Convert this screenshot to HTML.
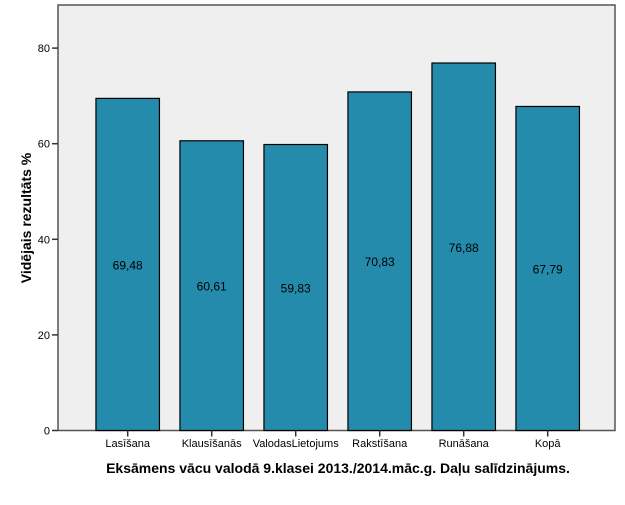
<!DOCTYPE html>
<html><head><meta charset="utf-8"><style>
body{margin:0;background:#fff;font-family:"Liberation Sans",Arial,sans-serif}
</style></head><body>
<svg width="625" height="500" xmlns="http://www.w3.org/2000/svg">
<rect x="58" y="5" width="557" height="425.5" fill="#efefef" stroke="#555" stroke-width="1.5"/>
<g id="bars"></g>
<g id="axes"></g>
<text x="31" y="218" transform="rotate(-90 31 218)" text-anchor="middle" font-size="14" font-weight="bold">Vidējais rezultāts %</text>
<text x="338" y="473" text-anchor="middle" font-size="14" font-weight="bold">Eksāmens vācu valodā 9.klasei 2013./2014.māc.g. Daļu salīdzinājums.</text>
</svg>
<script>
const categories=["Lasīšana","Klausīšanās","ValodasLietojums","Rakstīšana","Runāšana","Kopā"];
const values=[69.48,60.61,59.83,70.83,76.88,67.79];
const valueLabels=["69,48","60,61","59,83","70,83","76,88","67,79"];
const yTicks=[0,20,40,60,80];
const NS="http://www.w3.org/2000/svg";
const y0=430.5, k=4.78;
const yS=v=>y0-v*k;
const xC=i=>127.7+i*84;
const bw=63.5;
function mk(t,a,p){const e=document.createElementNS(NS,t);for(const q in a)e.setAttribute(q,a[q]);p.appendChild(e);return e;}
const gb=document.getElementById('bars'), ga=document.getElementById('axes');
values.forEach((v,i)=>{
  const r=mk('rect',{x:xC(i)-bw/2,y:yS(v),width:bw,height:y0-yS(v),fill:'#248bac',stroke:'#000','stroke-width':1.2},gb);
  
  
  const t=mk('text',{x:xC(i),y:(yS(v)+y0)/2+5,'text-anchor':'middle','font-size':12},gb);
  t.textContent=valueLabels[i];
  
  
  const tk=mk('line',{x1:xC(i),x2:xC(i),y1:y0,y2:y0+6,stroke:'#333','stroke-width':1.5},ga);
  
  
  const l=mk('text',{x:xC(i),y:447,'text-anchor':'middle','font-size':11},ga);
  l.textContent=categories[i];
  
  
});
yTicks.forEach(v=>{
  const tk=mk('line',{x1:52,x2:58,y1:yS(v),y2:yS(v),stroke:'#333','stroke-width':1.5},ga);
  
  
  const l=mk('text',{x:50,y:yS(v)+4,'text-anchor':'end','font-size':11},ga);
  l.textContent=v;
  
  
});
</script>
</body></html>
